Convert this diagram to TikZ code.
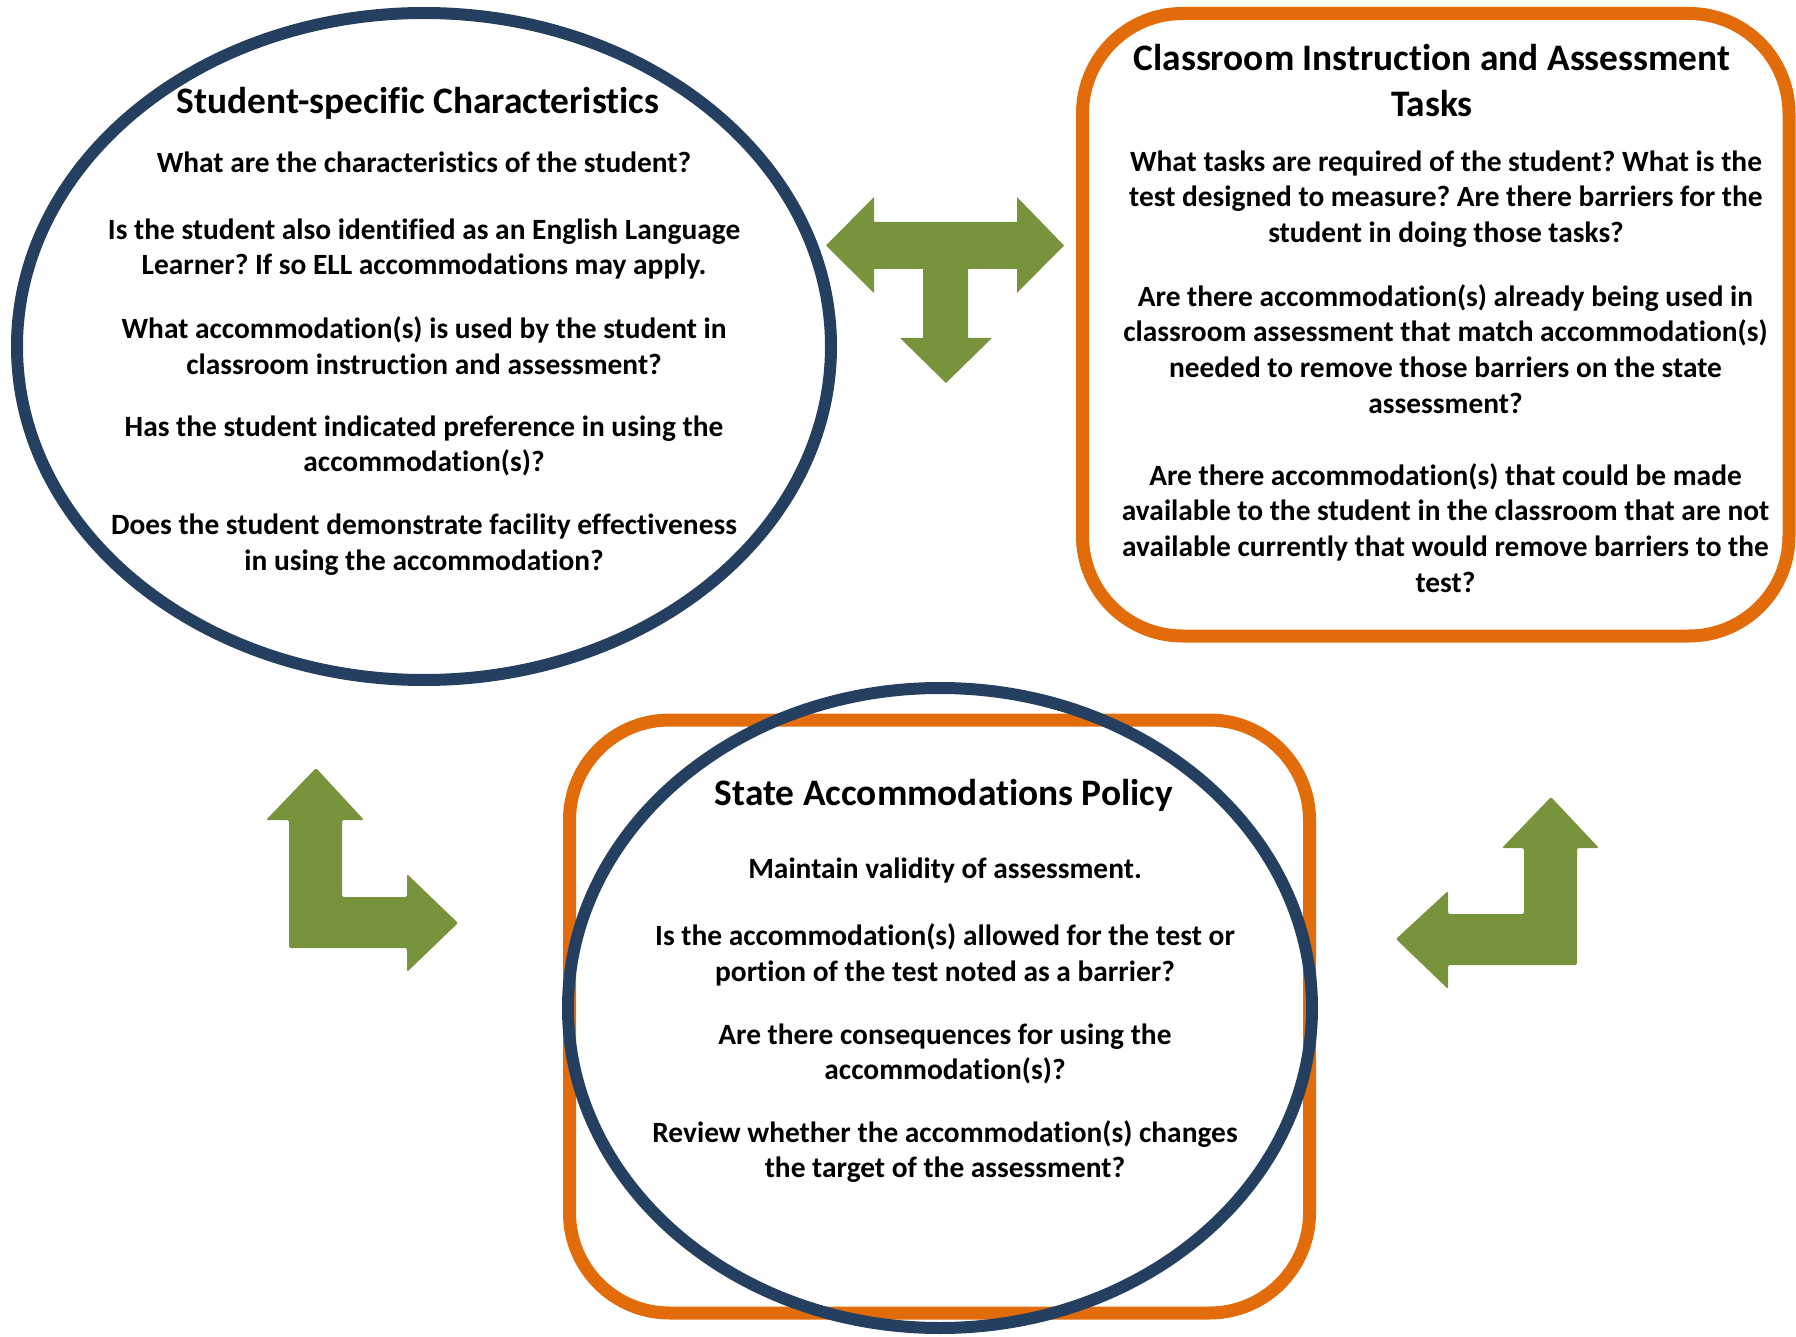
\documentclass[tikz,border=0pt]{standalone}
\usepackage{fontspec}
\setmainfont{Carlito}[Ligatures=NoCommon]
\usepackage{tikz}
\usetikzlibrary{shapes.geometric, positioning}
\definecolor{navy}{HTML}{243F60}
\definecolor{orng}{HTML}{E36C0A}
\definecolor{olive}{HTML}{77933C}
\frenchspacing

\begin{document}
\begin{tikzpicture}[x=0.5pt, y=-0.5pt,
    ring/.style={draw=navy, line width=6pt, ellipse, inner sep=0pt},
    frame/.style={draw=orng, line width=6.5pt, rectangle, rounded corners=50pt, inner sep=0pt},
    ttl/.style={font=\fontsize{18.7}{23}\selectfont\bfseries, align=center, inner sep=0pt},
    txt/.style={font=\fontsize{14.7}{17.9}\selectfont\bfseries, align=center, inner sep=0pt},
    arr/.style={fill=olive, rounded corners=1pt}]
    \useasboundingbox (0,0) rectangle (1796,1337);

    % student ellipse
    \node[ring, minimum width=407pt, minimum height=333.5pt] (stud) at (424,346.5) {};
    \node[ttl] (studttl) at (418,103) {Student-specific Characteristics};
    \node[txt] (stud1) at (424,162.5) {What are the characteristics of the student?};
    \node[txt] (stud2) at (424,249) {Is the student also identified as an English Language\\Learner? If so ELL accommodations may apply.};
    \node[txt] (stud3) at (424,345.3) {What accommodation(s) is used by the student in\\classroom instruction and assessment?};
    \node[txt] (stud4) at (424,446) {Has the student indicated preference in using the\\accommodation(s)?};
    \node[txt] (stud5) at (424,544.5) {Does the student demonstrate facility effectiveness\\in using the accommodation?};

    % classroom box
    \node[frame, minimum width=353.25pt, minimum height=311.25pt] (task) at (1435.75,324.75) {};
    \node[ttl] (taskttl) at (1432,81) {Classroom Instruction and Assessment\\Tasks};
    \node[txt] (task1) at (1446,199) {What tasks are required of the student? What is the\\test designed to measure? Are there barriers for the\\student in doing those tasks?};
    \node[txt] (task2) at (1445.5,349) {Are there accommodation(s) already being used in\\classroom assessment that match accommodation(s)\\needed to remove those barriers on the state\\assessment?};
    \node[txt] (task3) at (1445.5,528) {Are there accommodation(s) that could be made\\available to the student in the classroom that are not\\available currently that would remove barriers to the\\test?};

    % state policy
    \node[frame, minimum width=370pt, minimum height=296.5pt] (polbox) at (939.5,1016.5) {};
    \node[ring, minimum width=372pt, minimum height=320pt] (pol) at (940,1008) {};
    \node[ttl] (polttl) at (944,795) {State Accommodations Policy};
    \node[txt] (pol1) at (945,870) {Maintain validity of assessment.};
    \node[txt] (pol2) at (945,954.5) {Is the accommodation(s) allowed for the test or\\portion of the test noted as a barrier?};
    \node[txt] (pol3) at (945,1054) {Are there consequences for using the\\accommodation(s)?};
    \node[txt] (pol4) at (945,1151.5) {Review whether the accommodation(s) changes\\the target of the assessment?};

    % arrows
    \fill[olive] (826,245.5) -- (874,197) -- (874,222) -- (1017,222) -- (1017,197) -- (1064,245.5)
        -- (1017,293) -- (1017,269) -- (968,269) -- (968,338) -- (992,338) -- (946,383)
        -- (900,338) -- (923,338) -- (923,269) -- (874,269) -- (874,293) -- cycle;
    \fill[arr] (316,768) -- (364,820) -- (342,820) -- (342,897) -- (407,897) -- (407,874)
        -- (458,923) -- (407,972) -- (407,948) -- (289,948) -- (289,820) -- (266,820) -- cycle;
    \fill[arr] (1551,797) -- (1599,848) -- (1577,848) -- (1577,965) -- (1448,965) -- (1448,989)
        -- (1396,939) -- (1448,891) -- (1448,914) -- (1524,914) -- (1524,848) -- (1502,848) -- cycle;
\end{tikzpicture}
\end{document}
